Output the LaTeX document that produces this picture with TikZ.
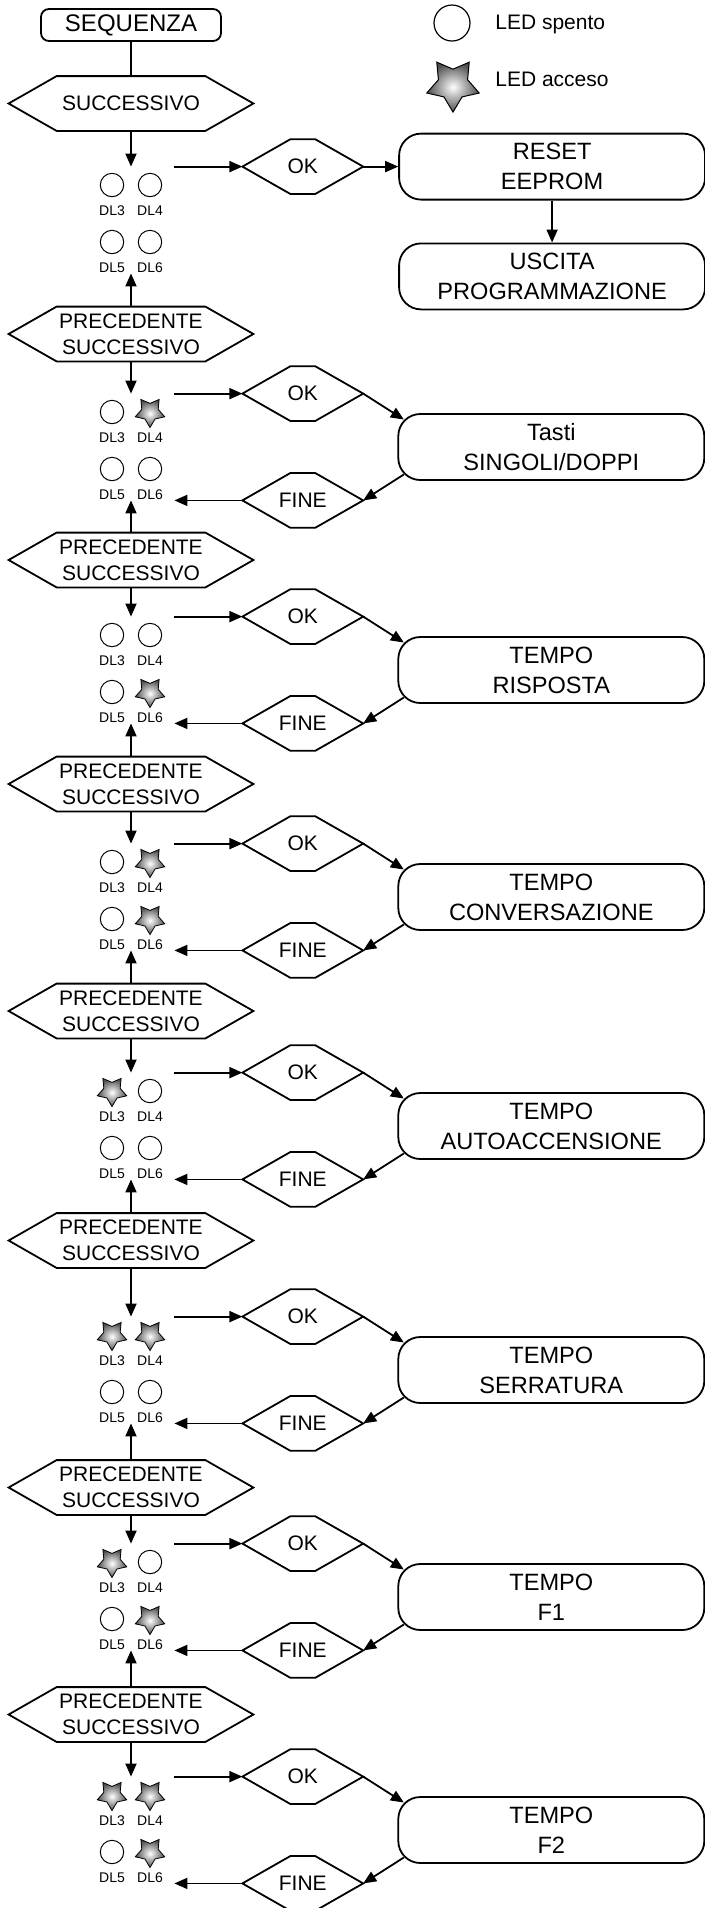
\documentclass[tikz,border=0pt]{standalone}
\usepackage{fontspec}
\setmainfont{Liberation Sans}
\usetikzlibrary{positioning}
\usetikzlibrary{shapes.geometric, arrows.meta}

\tikzset{
  rim/.style={line width=0.9pt},
  arr/.style={line width=0.9pt,-{Triangle[length=6.5pt,width=5.5pt]}},
  hexa/.style={minimum width=122pt,minimum height=27pt,inner sep=1pt,align=center,font=\fontsize{10.5}{13}\selectfont},
  okhex/.style={minimum width=60pt,minimum height=27pt,inner sep=1pt,font=\fontsize{10.5}{13}\selectfont},
  prog/.style={draw,line width=0.9pt,rounded corners=11pt,minimum width=153pt,minimum height=33pt,inner sep=2pt,align=center,font=\fontsize{11.8}{15}\selectfont},
  ledblock/.style={minimum width=43pt,minimum height=53pt,inner sep=0pt},
  ledoff/.style={circle,draw,line width=0.5pt,minimum size=11.7pt,inner sep=0pt},
  ledon/.style={star,star points=5,star point ratio=1.8,shape border rotate=180,draw,line width=0.4pt,inner color=white,outer color=black!70,minimum size=15.5pt,inner sep=0pt},
  dltext/.style={font=\fontsize{7}{8}\selectfont,inner sep=0pt},
  legtext/.style={font=\fontsize{10.5}{13}\selectfont,anchor=west,inner sep=0pt}
}
\newcommand\hexrim[1]{\draw[rim] (#1.west) -- ([xshift=24pt]#1.north west) -- ([xshift=-24pt]#1.north east) -- (#1.east) -- ([xshift=-24pt]#1.south east) -- ([xshift=24pt]#1.south west) -- cycle;}

\begin{document}
\begin{tikzpicture}[x=0.5pt,y=-0.5pt]
\useasboundingbox (0,0) rectangle (705,1908);

% legend
\node[ledoff,minimum size=18pt,line width=0.6pt] (legoff) at (452,23) {};
\node[legtext] (legofftxt) at (495,24) {LED spento};
\node[ledon,minimum size=27.6pt,line width=0.5pt] (legon) at (453,84.5) {};
\node[legtext] (legontxt) at (495,79) {LED acceso};

% start and reset
\node[prog,rounded corners=4pt,minimum width=90pt,minimum height=16pt,font=\fontsize{12}{14}\selectfont] (seq) at (131,25) {SEQUENZA};
\node[hexa] (hex0) at (131,103.5) {SUCCESSIVO};
\hexrim{hex0}
\node[ledblock] (led0) at (131,220) {};
\node[okhex,right=34pt of led0.north east] (ok0) {OK};
\hexrim{ok0}
\node[prog,right=17.5pt of ok0] (reset) {RESET\\EEPROM};
\node[prog,below=21pt of reset] (uscita) {USCITA\\PROGRAMMAZIONE};
\draw[rim] (seq) -- (hex0);
\draw[arr] (hex0) -- (led0);
\draw[arr] (led0.north east) -- (ok0.west);
\draw[arr] (ok0) -- (reset);
\draw[arr] (reset) -- (uscita);

% one step per setting
\foreach \i/\p/\c/\txt in {1/334/447/{Tasti\\SINGOLI/DOPPI},
    2/560/670/{TEMPO\\RISPOSTA},
    3/784/897/{TEMPO\\CONVERSAZIONE},
    4/1011/1126/{TEMPO\\AUTOACCENSIONE},
    5/1240.5/1370/{TEMPO\\SERRATURA},
    6/1487.5/1597/{TEMPO\\F1},
    7/1714.5/1830/{TEMPO\\F2}}{
  \pgfmathtruncatemacro\j{\i-1}
  \node[hexa] (prec\i) at (131,\p) {PRECEDENTE\\SUCCESSIVO};
  \hexrim{prec\i}
  \node[ledblock] (led\i) at (131,\c) {};
  \node[okhex,right=34pt of led\i.north east] (ok\i) {OK};
  \hexrim{ok\i}
  \node[prog,right=111.5pt of led\i.east] (box\i) {\txt};
  \node[okhex,right=34pt of led\i.south east] (fine\i) {FINE};
  \hexrim{fine\i}
  \draw[arr] (prec\i.north) -- (led\j.south);
  \draw[arr] (prec\i.south) -- (led\i.north);
  \draw[arr] (led\i.north east) -- (ok\i.west);
  \draw[arr] (ok\i.east) -- ([xshift=3.2pt,yshift=-3.2pt]box\i.north west);
  \draw[arr] ([xshift=3.2pt,yshift=3.2pt]box\i.south west) -- (fine\i.east);
  \draw[arr] (fine\i.west) -- (led\i.south east);
}

% leds
\foreach \i/\da/\db/\dc/\dd in {0/0/0/0/0,1/0/1/0/0,2/0/0/0/1,3/0/1/0/1,4/1/0/0/0,5/1/1/0/0,6/1/0/0/1,7/1/1/0/1}{
  \foreach \lab/\dx/\dy/\on in {DL3/-19/-35/\da,DL4/19/-35/\db,DL5/-19/22/\dc,DL6/19/22/\dd}{
    \ifnum\on=1
      \node[ledon] (l\i\lab) at ([shift={(\dx,\dy)}]led\i.center) {};
    \else
      \node[ledoff] (l\i\lab) at ([shift={(\dx,\dy)}]led\i.center) {};
    \fi
    \node[dltext] (t\i\lab) at ([shift={(\dx,\dy+26)}]led\i.center) {\lab};
  }
}

\end{tikzpicture}
\end{document}
